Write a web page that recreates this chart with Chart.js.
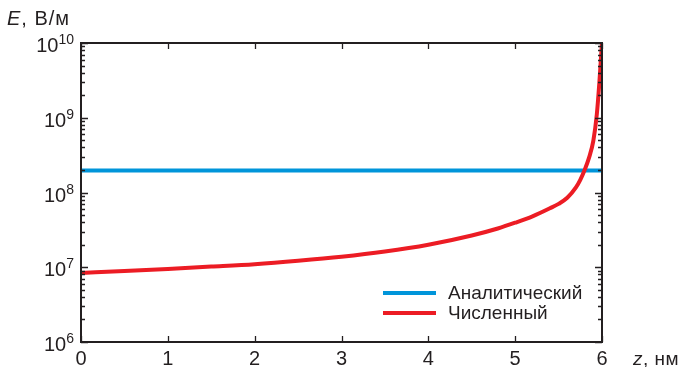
<!DOCTYPE html>
<html>
<head>
<meta charset="utf-8">
<script src="https://cdn.jsdelivr.net/npm/chart.js@4/dist/chart.umd.min.js"></script>
<style>
  body { margin: 0; background: #fff; }
</style>
</head>
<body>
<canvas id="chart" width="682" height="367"></canvas>
<script>
// data
var zValues   = [0, 0.5, 1, 1.5, 2, 2.5, 3, 3.5, 4, 4.5, 4.8, 5, 5.2, 5.4, 5.5, 5.6, 5.7, 5.75, 5.8, 5.85, 5.9, 5.94, 5.97, 5.985, 6.0];
var numericE  = [8.4e6, 8.9e6, 9.5e6, 1.02e7, 1.1e7, 1.22e7, 1.38e7, 1.62e7, 2.0e7, 2.66e7, 3.3e7, 3.94e7, 4.8e7, 6.15e7, 7.05e7, 8.5e7, 1.17e8, 1.48e8, 2.0e8, 2.9e8, 4.9e8, 1.1e9, 3.0e9, 5.5e9, 1e10];
var analyticZ = [0, 6];
var analyticE = [1.97e8, 1.97e8];
var xTicks    = [0, 1, 2, 3, 4, 5, 6];
var yDecades  = [6, 7, 8, 9, 10];
var seriesNames = ['Аналитический', 'Численный'];

var ink = '#231f20';
var font = '"Liberation Sans", Arial, Helvetica, sans-serif';

function pts(xs, ys) {
  return xs.map(function (x, i) { return { x: x, y: ys[i] }; });
}

// frame, inward ticks, labels, titles, legend
var decor = {
  id: 'decor',
  afterDatasetsDraw: function (chart) {
    var ctx = chart.ctx, a = chart.chartArea;
    var xs = chart.scales.x, ys = chart.scales.y;
    ctx.save();
    ctx.strokeStyle = ink;
    ctx.fillStyle = ink;

    // y ticks (major + minor) on both sides
    ctx.lineWidth = 1.3;
    ctx.beginPath();
    yDecades.forEach(function (d, k) {
      for (var m = 1; m <= 9; m++) {
        if (k === yDecades.length - 1 && m > 1) break;
        var py = Math.round(ys.getPixelForValue(m * Math.pow(10, d))) + 0.5;
        var len = m === 1 ? 7 : 4;
        ctx.moveTo(a.left, py); ctx.lineTo(a.left + len, py);
        ctx.moveTo(a.right, py); ctx.lineTo(a.right - len, py);
      }
    });
    // x ticks bottom and top
    xTicks.forEach(function (v) {
      var px = Math.round(xs.getPixelForValue(v)) + 0.5;
      ctx.moveTo(px, a.bottom); ctx.lineTo(px, a.bottom - 6);
      ctx.moveTo(px, a.top); ctx.lineTo(px, a.top + 6);
    });
    ctx.stroke();

    // frame
    ctx.lineWidth = 2;
    ctx.strokeRect(a.left, a.top, a.right - a.left, a.bottom - a.top);

    // y labels 10^n
    ctx.textBaseline = 'alphabetic';
    yDecades.forEach(function (d) {
      var py = ys.getPixelForValue(Math.pow(10, d));
      var exp = String(d);
      ctx.font = '14px ' + font;
      var ew = ctx.measureText(exp).width;
      ctx.textAlign = 'right';
      ctx.fillText(exp, 74, py + 1);
      ctx.font = '20px ' + font;
      ctx.fillText('10', 74 - ew, py + 9);
    });

    // x labels
    ctx.font = '20px ' + font;
    ctx.textAlign = 'center';
    xTicks.forEach(function (v) {
      ctx.fillText(String(v), xs.getPixelForValue(v), 365);
    });

    // axis titles
    ctx.textAlign = 'left';
    ctx.letterSpacing = '0.5px';
    ctx.font = 'italic 19px ' + font;
    ctx.fillText('z', 633, 365);
    var zw = ctx.measureText('z').width;
    ctx.font = '19px ' + font;
    ctx.fillText(', нм', 633 + zw, 365);

    ctx.letterSpacing = '1px';
    ctx.font = 'italic 20px ' + font;
    ctx.fillText('E', 7, 25);
    var ewid = ctx.measureText('E').width;
    ctx.font = '20px ' + font;
    ctx.fillText(', В/м', 7 + ewid, 25);
    ctx.letterSpacing = '0px';

    // legend
    ctx.font = '19px ' + font;
    ctx.textBaseline = 'middle';
    chart.data.datasets.forEach(function (ds, i) {
      var ly = 293 + i * 20;
      ctx.strokeStyle = ds.borderColor;
      ctx.lineWidth = 4;
      ctx.beginPath();
      ctx.moveTo(383, ly); ctx.lineTo(436, ly);
      ctx.stroke();
      ctx.fillStyle = ink;
      ctx.fillText(ds.label, 448, ly + 1);
    });
    ctx.restore();
  }
};

new Chart(document.getElementById('chart'), {
  type: 'line',
  data: {
    datasets: [
      {
        label: seriesNames[0],
        data: pts(analyticZ, analyticE),
        borderColor: '#0095da',
        borderWidth: 4,
        pointRadius: 0,
        order: 2
      },
      {
        label: seriesNames[1],
        data: pts(zValues, numericE),
        borderColor: '#ec1c24',
        borderWidth: 4,
        pointRadius: 0,
        cubicInterpolationMode: 'monotone',
        order: 1
      }
    ]
  },
  options: {
    responsive: false,
    animation: false,
    layout: { padding: { left: 81, right: 80, top: 43, bottom: 25 } },
    scales: {
      x: { type: 'linear', display: false, min: 0, max: 6 },
      y: { type: 'logarithmic', display: false, min: 1e6, max: 1e10 }
    },
    plugins: {
      legend: { display: false },
      tooltip: { enabled: false }
    }
  },
  plugins: [decor]
});
</script>
</body>
</html>
